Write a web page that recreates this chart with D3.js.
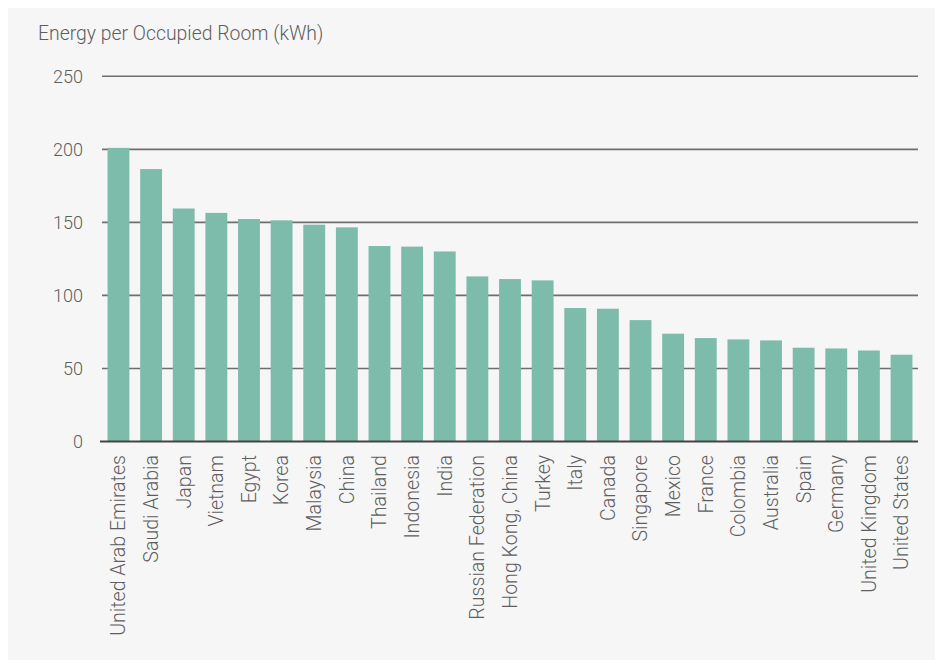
<!DOCTYPE html>
<html><head><meta charset="utf-8">
<script src="https://cdn.jsdelivr.net/npm/d3@7"></script>
<style>
html,body{margin:0;padding:0;background:#fff;}
text{font-family:Roboto, "Liberation Sans", sans-serif;font-weight:300;fill:#5e5e5e;}
</style></head>
<body>
<svg id="chart" width="943" height="668"></svg>
<script>
const categories = ["United Arab Emirates","Saudi Arabia","Japan","Vietnam","Egypt","Korea","Malaysia","China","Thailand","Indonesia","India","Russian Federation","Hong Kong, China","Turkey","Italy","Canada","Singapore","Mexico","France","Colombia","Australia","Spain","Germany","United Kingdom","United States"];
const values = [201,186.5,159.5,156.5,152.3,151.4,148.4,146.6,133.8,133.4,130.1,113,111.2,110.3,91.4,90.9,83.1,73.8,70.8,69.9,69.2,64.2,63.7,62.3,59.4];
const yTicks = [0,50,100,150,200,250];
const title = "Energy per Occupied Room (kWh)";

const svg = d3.select("#chart");
svg.append("rect").attr("x",8).attr("y",8).attr("width",927).attr("height",652).attr("fill","#f6f6f6");

const x = d3.scaleBand().domain(categories).range([102,918]).paddingInner(0.33).paddingOuter(0.17);
const y = d3.scaleLinear().domain([0,250]).range([441.5,76.3]);

// gridlines
svg.append("g").selectAll("line").data(yTicks.filter(d=>d>0)).join("line")
  .attr("x1",102).attr("x2",918)
  .attr("y1",d=>y(d)).attr("y2",d=>y(d))
  .attr("stroke","#6e6e6e").attr("stroke-width",1.6);

// bars
svg.append("g").selectAll("rect").data(values).join("rect")
  .attr("x",(d,i)=>x(categories[i]))
  .attr("width",x.bandwidth())
  .attr("y",d=>y(d))
  .attr("height",d=>y(0)-y(d))
  .attr("fill","#7dbcaa");

// baseline
svg.append("line").attr("x1",100).attr("x2",918).attr("y1",y(0)).attr("y2",y(0))
  .attr("stroke","#444").attr("stroke-width",2);

// y labels
svg.append("g").selectAll("text").data(yTicks).join("text")
  .attr("x",83).attr("y",d=>y(d)).attr("dy","0.35em")
  .attr("text-anchor","end").attr("font-size",18).text(d=>d);

// x labels
svg.append("g").selectAll("text").data(categories).join("text")
  .attr("transform",d=>`translate(${x(d)+x.bandwidth()/2},455) rotate(-90)`)
  .attr("dy","0.35em").attr("text-anchor","end").attr("font-size",19.6).text(d=>d);

svg.append("text").attr("x",38).attr("y",40).attr("font-size",19.4).text(title);
</script>
</body></html>
